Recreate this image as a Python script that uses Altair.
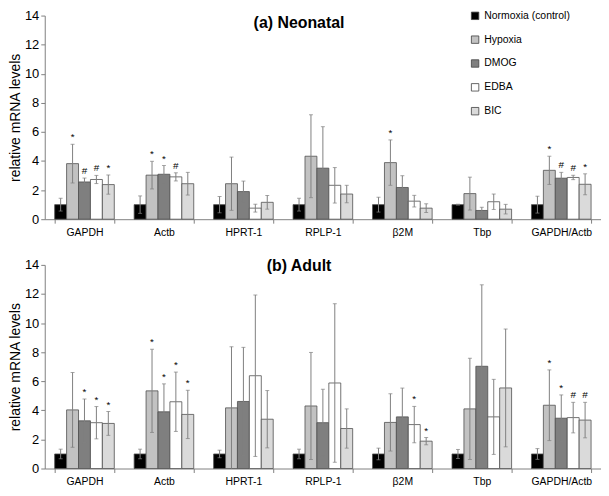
import altair as alt
import pandas as pd

genes = ["GAPDH", "Actb", "HPRT-1", "RPLP-1", "β2M", "Tbp", "GAPDH/Actb"]
groups = ["Normoxia (control)", "Hypoxia", "DMOG", "EDBA", "BIC"]
colors = ["#000000", "#c2c2c2", "#7f7f7f", "#ffffff", "#dadada"]

# (a) Neonatal: mean and error per group, genes in order above
neo_mean = {
    "Normoxia (control)": [1.0, 1.0, 1.0, 1.0, 1.0, 1.0, 1.0],
    "Hypoxia":            [3.82, 3.03, 2.44, 4.33, 3.89, 1.76, 3.36],
    "DMOG":               [2.56, 3.09, 1.90, 3.51, 2.18, 0.60, 2.82],
    "EDBA":               [2.73, 2.91, 0.76, 2.33, 1.24, 1.20, 2.87],
    "BIC":                [2.38, 2.44, 1.16, 1.73, 0.76, 0.69, 2.40],
}
neo_err = {
    "Normoxia (control)": [0.44, 0.60, 0.56, 0.44, 0.51, 0.03, 0.58],
    "Hypoxia":            [1.33, 0.95, 1.83, 2.85, 1.56, 1.13, 0.97],
    "DMOG":               [0.27, 0.60, 0.72, 2.85, 0.81, 0.22, 0.40],
    "EDBA":               [0.28, 0.28, 0.27, 1.22, 0.40, 0.53, 0.15],
    "BIC":                [0.66, 0.78, 0.47, 0.60, 0.30, 0.33, 0.72],
}
neo_sig = {
    "Normoxia (control)": ["", "", "", "", "", "", ""],
    "Hypoxia":            ["*", "*", "", "", "*", "", "*"],
    "DMOG":               ["#", "*", "", "", "", "", "#"],
    "EDBA":               ["#", "#", "", "", "", "", "#"],
    "BIC":                ["*", "", "", "", "", "", "*"],
}

# (b) Adult
adu_mean = {
    "Normoxia (control)": [1.0, 1.0, 1.0, 1.0, 1.0, 1.0, 1.0],
    "Hypoxia":            [4.03, 5.34, 4.17, 4.30, 3.17, 4.10, 4.35],
    "DMOG":               [3.28, 3.90, 4.61, 3.15, 3.55, 7.03, 3.46],
    "EDBA":               [3.15, 4.59, 6.38, 5.88, 3.02, 3.55, 3.50],
    "BIC":                [3.10, 3.72, 3.39, 2.75, 1.88, 5.54, 3.33],
}
adu_err = {
    "Normoxia (control)": [0.33, 0.33, 0.26, 0.33, 0.40, 0.31, 0.37],
    "Hypoxia":            [2.57, 2.86, 4.20, 3.68, 1.97, 3.48, 2.43],
    "DMOG":               [1.50, 1.92, 3.72, 2.30, 1.98, 5.60, 1.60],
    "EDBA":               [1.11, 2.04, 5.55, 5.45, 1.25, 2.58, 1.05],
    "BIC":                [0.82, 1.66, 1.97, 1.35, 0.25, 4.05, 1.22],
}
adu_sig = {
    "Normoxia (control)": ["", "", "", "", "", "", ""],
    "Hypoxia":            ["", "*", "", "", "", "", "*"],
    "DMOG":               ["*", "*", "", "", "", "", "*"],
    "EDBA":               ["*", "*", "", "", "*", "", "#"],
    "BIC":                ["*", "*", "", "", "*", "", "#"],
}
y_ticks = [0, 2, 4, 6, 8, 10, 12, 14]

FONT = "Liberation Sans"


def build_df(mean, err, sig):
    rows = []
    for g in groups:
        for i, gene in enumerate(genes):
            m = mean[g][i]
            e = err[g][i]
            rows.append({
                "gene": gene, "group": g, "mean": m,
                "lo": max(0.0, m - e), "hi": m + e, "sig": sig[g][i],
            })
    return pd.DataFrame(rows)


def panel(df, title, title_y, show_legend):
    xenc = alt.X(
        "gene:N", sort=genes,
        scale=alt.Scale(paddingInner=0.25, paddingOuter=0.125),
        axis=alt.Axis(title=None, labelAngle=0, labelFontSize=10.5, labelFont=FONT,
                      labelColor="black", tickBand="extent", tickSize=4,
                      tickColor="#808080", domainColor="#808080", labelPadding=4),
    )
    xoff = alt.XOffset("group:N", sort=groups,
                       scale=alt.Scale(paddingInner=0, paddingOuter=0))
    yscale = alt.Scale(domain=[0, 14])
    yaxis = alt.Axis(title="relative mRNA levels", titleFontSize=14,
                     titleFont=FONT, titleFontWeight="normal",
                     titleColor="black", titlePadding=2,
                     labelFontSize=13, labelFont=FONT, labelColor="black",
                     values=y_ticks, grid=False, labelOverlap=False,
                     tickSize=4, tickColor="#808080",
                     domainColor="#808080", labelPadding=2)

    def Y(field):
        return alt.Y(field, type="quantitative", scale=yscale, axis=yaxis)

    base = alt.Chart(df).encode(x=xenc, xOffset=xoff)

    if show_legend:
        leg = alt.Legend(
            title=None, orient="none", legendX=428, legendY=-5,
            symbolType="square", symbolSize=56, symbolStrokeColor="#404040",
            symbolStrokeWidth=0.8, labelFontSize=10.5, labelFont=FONT,
            labelColor="black", rowPadding=12, labelOffset=4, padding=0,
        )
    else:
        leg = None

    bars = base.mark_bar(stroke="#505050", strokeWidth=0.8).encode(
        y=Y("mean"),
        color=alt.Color("group:N", scale=alt.Scale(domain=groups, range=colors),
                        legend=leg),
    )
    rules = base.mark_rule(color="#808080", strokeWidth=1).encode(
        y=Y("lo"), y2="hi:Q")
    cap_hi = base.mark_tick(color="#808080", size=4, thickness=1).encode(y=Y("hi"))
    cap_lo = base.transform_filter("datum.lo > 0").mark_tick(
        color="#808080", size=4, thickness=1).encode(y=Y("lo"))
    sig = base.transform_filter("datum.sig != ''").mark_text(
        baseline="bottom", dy=-2, fontSize=10, font=FONT, color="black").encode(
        y=Y("hi"), text="sig:N")
    ttl = alt.Chart(pd.DataFrame({"t": [title]})).mark_text(
        fontSize=16, fontWeight="bold", font=FONT, color="black",
        align="center", baseline="middle").encode(
        text="t:N", x=alt.value(256), y=alt.value(title_y))

    return alt.layer(bars, rules, cap_hi, cap_lo, sig, ttl).properties(
        width=560, height=205)


top = panel(build_df(neo_mean, neo_err, neo_sig), "(a) Neonatal", 8, True)
bottom = panel(build_df(adu_mean, adu_err, adu_sig), "(b) Adult", 1, False)

chart = alt.vconcat(top, bottom, spacing=20).resolve_scale(
    color="independent").configure_view(stroke=None).properties(padding=0)

chart.save("out.html", embed_options={"renderer": "svg", "actions": False})
